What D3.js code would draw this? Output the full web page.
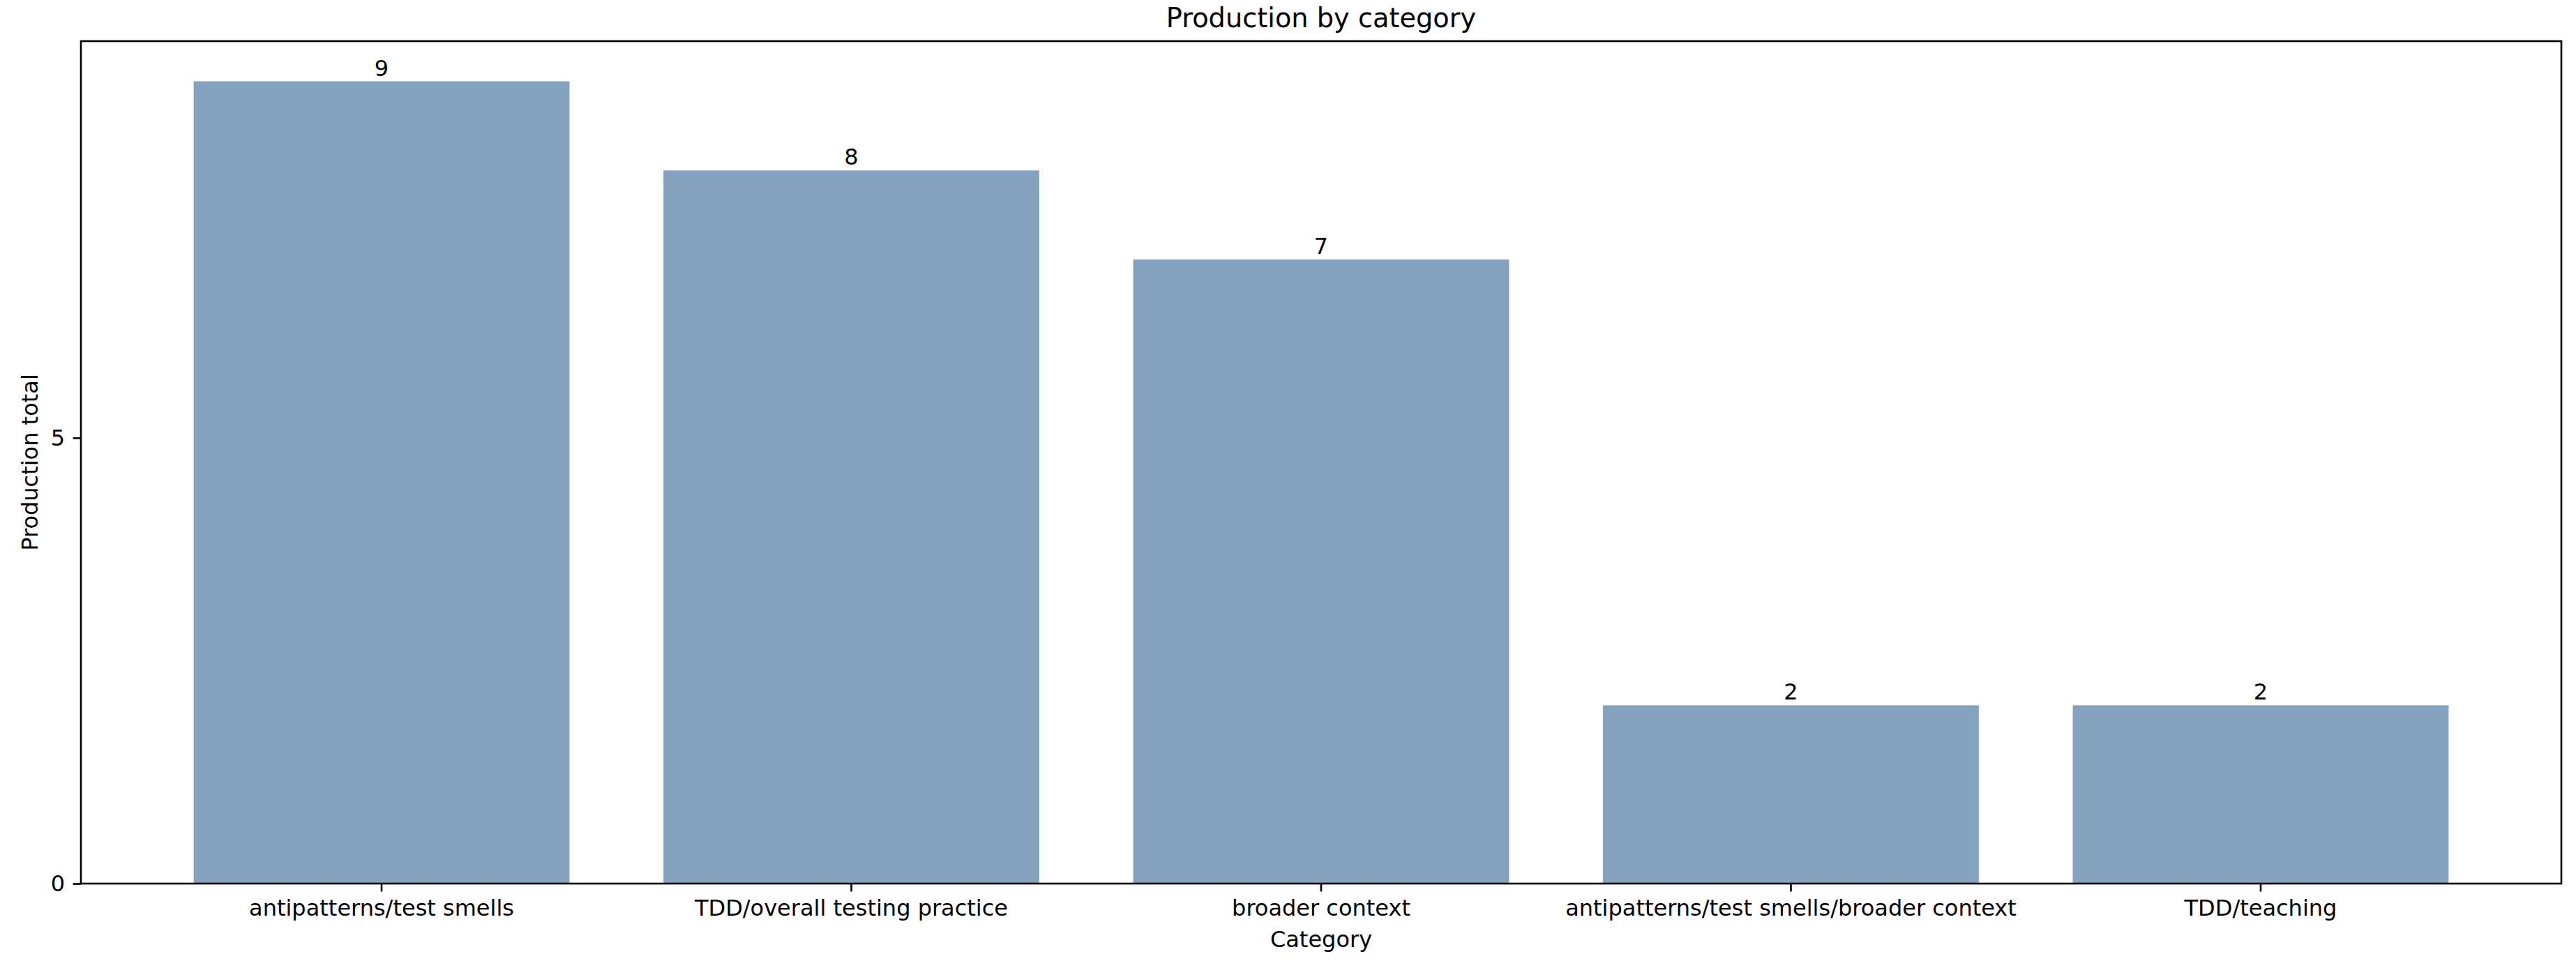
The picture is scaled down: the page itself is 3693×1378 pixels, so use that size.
<!DOCTYPE html>
<html>
<head>
<meta charset="utf-8">
<script src="https://cdn.jsdelivr.net/npm/d3@7"></script>
<style>
  body { margin: 0; background: #fff; }
  svg { display: block; }
</style>
</head>
<body>
<svg id="viz"></svg>
<script>
const categories = [
  "antipatterns/test smells",
  "TDD/overall testing practice",
  "broader context",
  "antipatterns/test smells/broader context",
  "TDD/teaching"
];
const totals = [9, 8, 7, 2, 2];
const yTicks = [0, 5];

const width = 3693, height = 1378;
const margin = { top: 59, right: 21, bottom: 111, left: 116 };
const fontPx = 32;

const svg = d3.select("#viz")
    .attr("width", width)
    .attr("height", height)
    .style("font-family", "'DejaVu Sans', sans-serif");

const x = d3.scaleBand()
    .domain(categories)
    .range([margin.left, width - margin.right])
    .paddingInner(0.2)
    .paddingOuter(0.24);

const y = d3.scaleLinear()
    .domain([0, 9.45])
    .range([height - margin.bottom, margin.top]);

// bars
svg.append("g")
  .selectAll("rect")
  .data(categories)
  .join("rect")
    .attr("x", d => x(d))
    .attr("width", x.bandwidth())
    .attr("y", (d, i) => y(totals[i]))
    .attr("height", (d, i) => y(0) - y(totals[i]))
    .attr("fill", "#84a3c0");

// value labels
svg.append("g")
    .attr("text-anchor", "middle")
    .style("font-size", fontPx + "px")
  .selectAll("text")
  .data(categories)
  .join("text")
    .attr("x", d => x(d) + x.bandwidth() / 2)
    .attr("y", (d, i) => y(totals[i]) - 8)
    .text((d, i) => totals[i]);

// axes
const tickLen = 11.4, tickPad = 12;

const xAxis = svg.append("g")
    .attr("transform", `translate(0,${height - margin.bottom})`)
    .call(d3.axisBottom(x).tickSize(tickLen).tickPadding(tickPad));
xAxis.select(".domain").remove();
xAxis.selectAll(".tick line").attr("stroke", "#000").attr("stroke-width", 2.6);
xAxis.selectAll(".tick text")
    .attr("fill", "#000")
    .style("font-size", fontPx + "px")
    .style("font-family", "'DejaVu Sans', sans-serif");

const yAxis = svg.append("g")
    .attr("transform", `translate(${margin.left},0)`)
    .call(d3.axisLeft(y).tickValues(yTicks).tickSize(tickLen).tickPadding(11.4));
yAxis.select(".domain").remove();
yAxis.selectAll(".tick line").attr("stroke", "#000").attr("stroke-width", 2.6);
yAxis.selectAll(".tick text")
    .attr("fill", "#000")
    .style("font-size", fontPx + "px")
    .style("font-family", "'DejaVu Sans', sans-serif");

// frame
svg.append("rect")
    .attr("x", margin.left)
    .attr("y", margin.top)
    .attr("width", width - margin.left - margin.right)
    .attr("height", height - margin.top - margin.bottom)
    .attr("fill", "none")
    .attr("stroke", "#000")
    .attr("stroke-width", 2.6);

// titles
svg.append("text")
    .attr("x", (margin.left + width - margin.right) / 2)
    .attr("y", margin.top - 19.6)
    .attr("text-anchor", "middle")
    .style("font-size", "38.3px")
    .text("Production by category");

svg.append("text")
    .attr("x", (margin.left + width - margin.right) / 2)
    .attr("y", 1358)
    .attr("text-anchor", "middle")
    .style("font-size", fontPx + "px")
    .text("Category");

svg.append("text")
    .attr("transform", `translate(54,${(margin.top + height - margin.bottom) / 2}) rotate(-90)`)
    .attr("text-anchor", "middle")
    .style("font-size", fontPx + "px")
    .text("Production total");
</script>
</body>
</html>
